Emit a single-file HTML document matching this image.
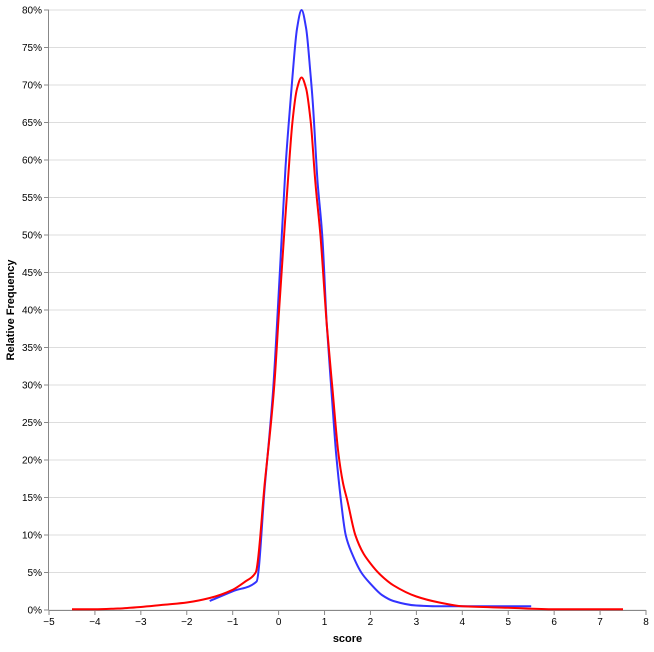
<!DOCTYPE html>
<html><head><meta charset="utf-8"><style>
body{margin:0;background:#fff;font-family:"Liberation Sans",sans-serif}
text{font-family:"Liberation Sans",sans-serif}
</style></head><body>
<svg id="c" width="654" height="647"></svg>
<script>
const blueX=[-1.5,-1,-0.48,-0.3,-0.12,0,0.07,0.15,0.26,0.3,0.4,0.5,0.6,0.7,0.74,0.85,0.95,1.05,1.15,1.25,1.35,1.46,1.6,1.8,2,2.25,2.5,3,3.5,4,5.5];
const blueY=[1.2,2.5,3.8,16.5,29.3,42,50,59,68,71,77.5,80,77.5,71,68,57,50,38,29.3,21,15,10,7.5,5,3.5,2,1.2,0.6,0.5,0.5,0.5];
const redX=[-4.5,-4,-3.5,-3,-2.5,-2,-1.5,-1,-0.75,-0.5,-0.3,-0.1,0,0.12,0.2,0.3,0.4,0.5,0.6,0.7,0.8,0.91,1.05,1.18,1.3,1.4,1.5,1.67,1.85,2,2.2,2.5,3,3.5,4,5,6,7.5];
const redY=[0.1,0.1,0.2,0.4,0.7,1,1.6,2.7,3.7,5,17,29.5,39,50,57,65,69.5,71,69.5,65,57,50,38,29,21,17,14.5,10,7.5,6.2,4.8,3.3,1.8,1,0.5,0.3,0.1,0.1];
const xTicks=[-5,-4,-3,-2,-1,0,1,2,3,4,5,6,7,8];
const yTicks=[0,5,10,15,20,25,30,35,40,45,50,55,60,65,70,75,80];
const NS="http://www.w3.org/2000/svg";
const svg=document.getElementById('c');
const L=49,R=646,T=10,B=610;
const sx=v=>L+(v+5)/13*(R-L);
const sy=v=>B-v/80*(B-T);
function mk(tag,attrs,parent){const e=document.createElementNS(NS,tag);for(const k in attrs)e.setAttribute(k,attrs[k]);(parent||svg).appendChild(e);return e;}
const grid=mk('g',{});


yTicks.forEach(t=>{const l=mk('line',{x1:L,x2:R,y1:sy(t),y2:sy(t),stroke:'#ddd'},grid);

});
const xa=mk('g',{});


mk('line',{x1:L,x2:R,y1:B+0.5,y2:B+0.5,stroke:'#888'},xa);
xTicks.forEach(t=>{mk('line',{x1:sx(t),x2:sx(t),y1:B,y2:B+5,stroke:'#888'},xa);
const tx=mk('text',{x:sx(t),y:B+15,'text-anchor':'middle','font-size':10,fill:'#000'},xa);tx.textContent=String(t).replace('-','\u2212');

});
const xt=mk('text',{x:(L+R)/2,y:B+32,'text-anchor':'middle','font-size':11,'font-weight':'bold'},xa);xt.textContent='score';


const ya=mk('g',{});


mk('line',{x1:L-0.5,x2:L-0.5,y1:T,y2:B,stroke:'#888'},ya);
yTicks.forEach(t=>{mk('line',{x1:L-5,x2:L,y1:sy(t),y2:sy(t),stroke:'#888'},ya);
const tx=mk('text',{x:L-7,y:sy(t)+3.5,'text-anchor':'end','font-size':10},ya);tx.textContent=t+'%';

});
const yt=mk('text',{transform:'translate(14,'+((T+B)/2)+') rotate(-90)','text-anchor':'middle','font-size':11,'font-weight':'bold'},ya);yt.textContent='Relative Frequency';


function line(xs,ys,color,name){
 const X=xs.map(sx),Y=ys.map(sy),n=X.length;
 const h=[],s=[];
 for(let i=0;i<n-1;i++){h.push(X[i+1]-X[i]);s.push((Y[i+1]-Y[i])/h[i]);}
 const m=new Array(n);
 m[0]=s[0];m[n-1]=s[n-2];
 for(let i=1;i<n-1;i++){
  if(s[i-1]*s[i]<=0)m[i]=0;
  else{const w1=2*h[i]+h[i-1],w2=h[i]+2*h[i-1];m[i]=(w1+w2)/(w1/s[i-1]+w2/s[i]);}
 }
 let d='M'+X[0].toFixed(1)+','+Y[0].toFixed(1);
 for(let i=0;i<n-1;i++){
  const dx=h[i]/3;
  d+='C'+(X[i]+dx).toFixed(1)+','+(Y[i]+m[i]*dx).toFixed(1)+' '+(X[i+1]-dx).toFixed(1)+','+(Y[i+1]-m[i+1]*dx).toFixed(1)+' '+X[i+1].toFixed(1)+','+Y[i+1].toFixed(1);
 }
 const p=mk('path',{d:d,fill:'none',stroke:color,'stroke-width':2,'stroke-linejoin':'round'});
 
 
}
line(blueX,blueY,'#3333ff','blue-series-line');
line(redX,redY,'#ff0000','red-series-line');
</script>
</body></html>
